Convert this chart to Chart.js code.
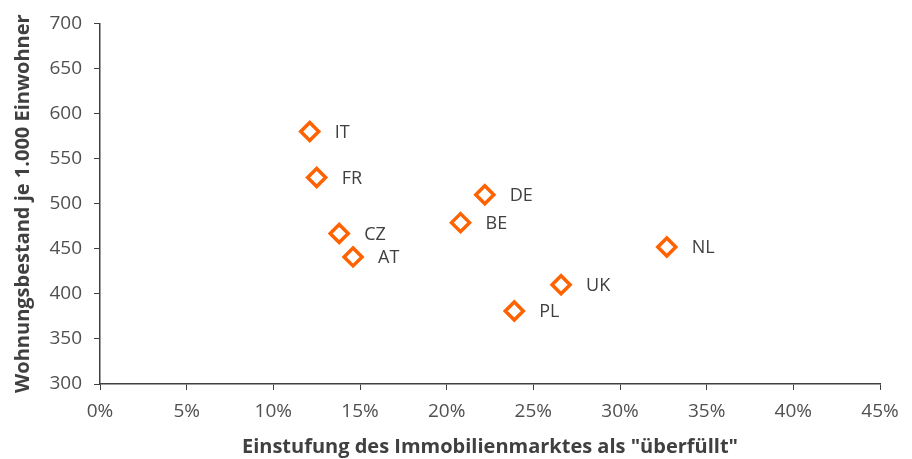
<!DOCTYPE html>
<html>
<head>
<meta charset="utf-8">
<script src="https://cdn.jsdelivr.net/npm/chart.js@4/dist/chart.umd.min.js"></script>
<style>
  html, body { margin: 0; padding: 0; background: #fff; }
  #wrap { width: 912px; height: 459px; }
</style>
</head>
<body>
<div id="wrap"><canvas id="chart" width="912" height="459"></canvas></div>
<script>
// Countries and their values (x: share rating market "overheated", y: dwellings per 1,000 inhabitants)
const countries = ["IT", "FR", "CZ", "AT", "DE", "BE", "UK", "PL", "NL"];
const marketShare = [12.1, 12.5, 13.8, 14.6, 22.2, 20.8, 26.6, 23.9, 32.7];
const dwellings = [580, 529, 467, 441, 510, 479, 410, 381, 452];

const orange = "#FF6200";
const textGrey = "#404040";
const tickGrey = "#505050";
const fontFamily = "'Open Sans', 'Noto Sans', sans-serif";

// draws the country code to the right of each marker
const pointLabels = {
  id: "pointLabels",
  afterDatasetsDraw(chart) {
    const ctx = chart.ctx;
    const meta = chart.getDatasetMeta(0);
    ctx.save();
    ctx.font = "18px " + fontFamily;
    ctx.fillStyle = textGrey;
    ctx.textBaseline = "middle";
    ctx.textAlign = "left";
    meta.data.forEach((pt, i) => {
      ctx.fillText(countries[i], pt.x + 25, pt.y + 1);
    });
    ctx.restore();
  }
};

new Chart(document.getElementById("chart"), {
  type: "scatter",
  data: {
    datasets: [{
      data: marketShare.map((x, i) => ({ x: x, y: dwellings[i] })),
      pointStyle: "rectRot",
      pointRadius: 9,
      pointHoverRadius: 9,
      borderColor: orange,
      backgroundColor: "#fff",
      pointBorderWidth: 3.5
    }]
  },
  options: {
    responsive: false,
    animation: false,
    layout: { padding: { left: 0, top: 12, right: 32, bottom: 0 } },
    plugins: {
      legend: { display: false },
      tooltip: { enabled: false }
    },
    scales: {
      x: {
        type: "linear",
        min: 0,
        max: 45,
        afterFit: s => { s.height = 75; },
        ticks: {
          stepSize: 5,
          padding: 10,
          color: tickGrey,
          font: { family: fontFamily, size: 19 },
          callback: v => v + "%"
        },
        grid: { drawOnChartArea: false, drawTicks: true, tickLength: 6, color: textGrey },
        border: { color: textGrey, width: 1.5 },
        title: {
          display: true,
          text: "Einstufung des Immobilienmarktes als \"überfüllt\"",
          color: textGrey,
          font: { family: fontFamily, size: 20, weight: "bold" },
          padding: { top: 0, bottom: 0 }
        }
      },
      y: {
        min: 300,
        max: 700,
        afterFit: s => { s.width = 100; },
        ticks: {
          stepSize: 50,
          padding: 12,
          color: tickGrey,
          font: { family: fontFamily, size: 19 }
        },
        grid: { drawOnChartArea: false, drawTicks: true, tickLength: 6, color: textGrey },
        border: { color: textGrey, width: 1.5 },
        title: {
          display: true,
          text: "Wohnungsbestand je 1.000 Einwohner",
          color: textGrey,
          font: { family: fontFamily, size: 20, weight: "bold" },
          padding: { top: 11, bottom: 0 }
        }
      }
    }
  },
  plugins: [pointLabels]
});
</script>
</body>
</html>
